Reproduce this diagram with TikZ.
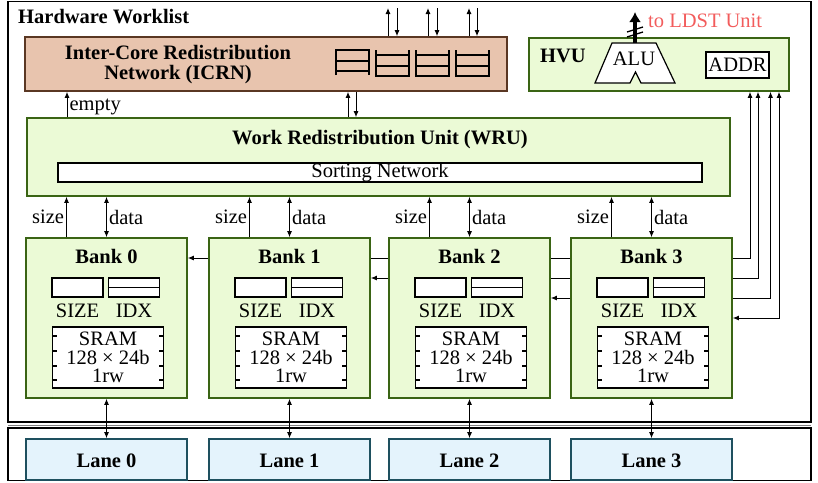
\documentclass[tikz,border=0pt]{standalone}
\usepackage{fontspec}
\setmainfont{Liberation Serif}
\usetikzlibrary{arrows.meta,calc}
\pgfdeclarelayer{bg}
\pgfsetlayers{bg,main}
\definecolor{bankfill}{RGB}{235,250,214}
\definecolor{bankdraw}{RGB}{58,100,20}
\definecolor{icrnfill}{RGB}{232,196,174}
\definecolor{icrndraw}{RGB}{90,55,35}
\definecolor{lanefill}{RGB}{228,243,252}
\definecolor{lanedraw}{RGB}{30,80,95}
\definecolor{ldst}{RGB}{242,92,92}
\begin{document}
\begin{tikzpicture}[x=1pt,y=-1pt,
  every node/.style={font=\fontsize{20.5}{20}\selectfont, inner sep=0pt},
  bold/.style={font=\fontsize{20.5}{20}\selectfont\bfseries},
  greenbox/.style={draw=bankdraw, fill=bankfill, line width=1.6pt},
  icrnbox/.style={draw=icrndraw, fill=icrnfill, line width=1.6pt},
  lanebox/.style={draw=lanedraw, fill=lanefill, line width=1.6pt},
  whitebox/.style={draw=black, fill=white, line width=1.2pt},
  qline/.style={line width=1.5pt},
  arr/.style={-{Latex[length=6pt,width=5pt]}, line width=1pt},
  dblarr/.style={{Latex[length=6pt,width=5pt]}-{Latex[length=6pt,width=5pt]}, line width=1pt},
  outer/.style={draw=black, line width=1.8pt}
]
\useasboundingbox (0,0) rectangle (818,482);

% outer containers
\draw[outer] (8,1.5) rectangle (811,422);
\draw[gray, line width=1pt] (8,425) -- (811,425);
\draw[outer] (8,428) rectangle (811,480.5);
\node[bold, anchor=west] (hwl) at (18,17) {Hardware Worklist};

% ICRN
\node[icrnbox, minimum width=482pt, minimum height=54pt] (icrn) at (266,64) {};
\node[bold, align=center] (icrnt) at (178,65) {Inter-Core Redistribution\\Network (ICRN)};
\draw[qline] (336,75) -- (336,50) -- (369,50) -- (369,75);
\draw[qline] (336,61) -- (369,61) (336,71) -- (369,71);
\foreach \qx in {376,416,456} {
  \draw[qline] (\qx,50) -- (\qx,76) -- ({\qx+33},76) -- ({\qx+33},50);
  \draw[qline] (\qx,55) -- ({\qx+33},55) (\qx,66) -- ({\qx+33},66);
}
\foreach \ux/\dx in {388/397,428/437,469/477} {
  \coordinate (tu) at (\ux,8);
  \coordinate (td) at (\dx,8);
  \draw[arr] (tu |- icrn.north) -- (tu);
  \draw[arr] (td) -- (td |- icrn.north);
}

% HVU
\node[greenbox, minimum width=260pt, minimum height=53pt] (hvu) at (659,64.5) {};
\node[bold] (hvut) at (563,56) {HVU};
\draw[whitebox] (595,83) -- (612,43) -- (656,43) -- (675,83) -- (641,83) -- (635.5,72) -- (630,83) -- cycle;
\node (alu) at (634,59) {ALU};
\coordinate (alutop) at (635,43);
\coordinate (aluout) at (635,12);
\draw[-{Latex[length=10pt,width=12pt]}, line width=3.5pt] (alutop) -- (aluout);
\draw[line width=1.3pt] (627,37) -- (643,32);
\draw[line width=1.3pt] (627,32) -- (643,27);
\node[anchor=west, text=ldst] (ldst) at (648,21) {to LDST Unit};
\node[whitebox, minimum width=63pt, minimum height=26pt] (addr) at (737.5,65) {ADDR};

% WRU
\node[greenbox, minimum width=703pt, minimum height=78pt] (wru) at (378.5,157) {};
\node[bold] (wrut) at (380,140) {Work Redistribution Unit (WRU)};
\node[whitebox, minimum width=644pt, minimum height=19pt] (sort) at (380,172.5) {Sorting Network};

% ICRN <-> WRU
\coordinate (e0) at (67,0);
\draw[arr] (e0 |- wru.north) -- node[right=2pt, yshift=-2pt] {empty} (e0 |- icrn.south);
\coordinate (u0) at (348,0);
\coordinate (d0) at (356,0);
\draw[arr] (u0 |- wru.north) -- (u0 |- icrn.south);
\draw[arr] (d0 |- icrn.south) -- (d0 |- wru.north);

% Banks and lanes
\foreach \i/\L in {0/26,1/209,2/389,3/571} {
  \pgfmathsetmacro\cx{\L+80.5}
  \node[greenbox, minimum width=161pt, minimum height=160pt] (b\i) at (\cx,318) {};
  \node[bold] (bt\i) at (\cx,256) {Bank \i};
  \node[whitebox, minimum width=51pt, minimum height=19pt] (sz\i) at ({\cx-29},287.5) {};
  \node[whitebox, minimum width=51pt, minimum height=19pt] (ix\i) at ({\cx+27.5},287.5) {};
  \draw[line width=1.2pt] (ix\i.west) -- (ix\i.east);
  \node (szl\i) at ({\cx-29},311) {SIZE};
  \node (ixl\i) at ({\cx+27.5},311) {IDX};
  \node[whitebox, minimum width=111pt, minimum height=61pt, align=center,
        font=\fontsize{20.5}{18.5}\selectfont] (sr\i) at ({\cx+1.5},357.5) {SRAM\\128 × 24b\\1rw};
  \foreach \t in {336,351,366,380} {
    \coordinate (tk) at (0,\t);
    \draw[line width=1.1pt] (sr\i.west |- tk) -- ++(5,0);
    \draw[line width=1.1pt] (sr\i.east |- tk) -- ++(-5,0);
  }
  \node[lanebox, minimum width=161pt, minimum height=41pt] (l\i) at (\cx,459.5) {};
  \node[bold] (lt\i) at (\cx,461) {Lane \i};
  \coordinate (s\i) at ({\cx-40},0);
  \draw[arr] (s\i |- b\i.north) -- node[left=2pt] {size} (s\i |- wru.south);
  \draw[dblarr] (b\i.north) -- node[right=2pt] {data} (b\i.north |- wru.south);
  \draw[dblarr] (b\i.south) -- (l\i.north);
}

% bank <-> HVU bus lines (behind banks)
\begin{pgfonlayer}{bg}
\foreach \i/\xx/\yy in {0/750/258,1/758/278,2/770.5/298,3/779/318} {
  \coordinate (bv\i) at (\xx,\yy);
  \draw[dblarr] (b\i.east |- bv\i) -- (bv\i) -- (bv\i |- hvu.south);
}
\end{pgfonlayer}
\end{tikzpicture}
\end{document}
